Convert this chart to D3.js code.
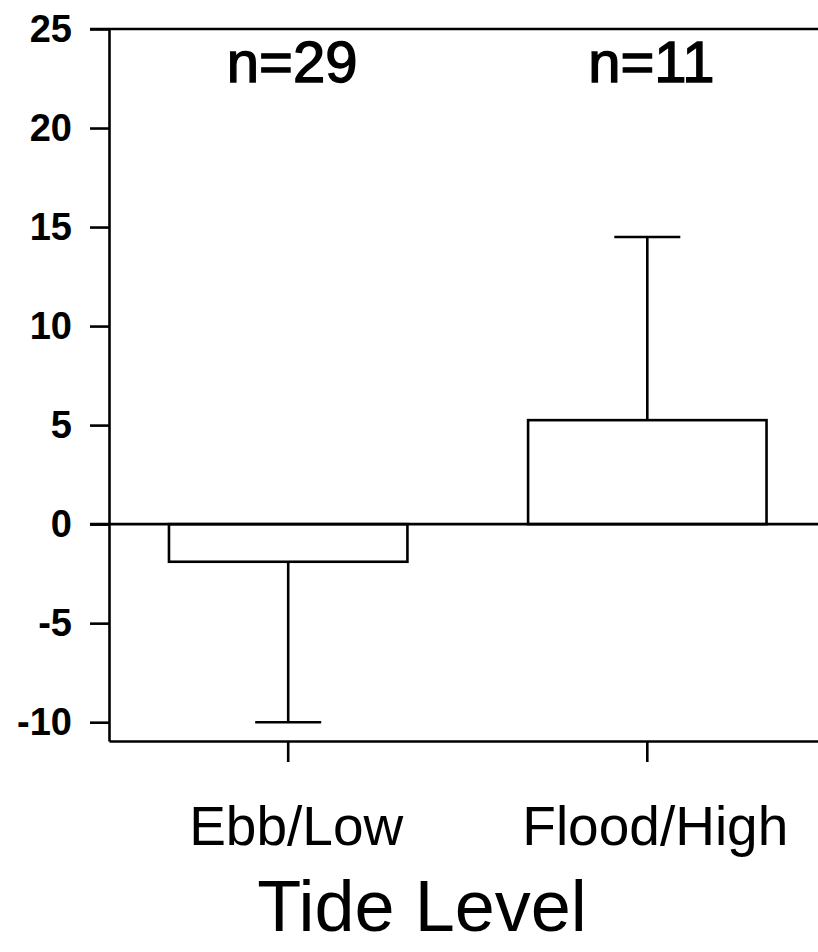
<!DOCTYPE html>
<html>
<head>
<meta charset="utf-8">
<script src="https://cdn.jsdelivr.net/npm/d3@7"></script>
<style>
  body { margin: 0; background: #fff; }
  svg { display: block; font-family: "Liberation Sans", Arial, sans-serif; }
</style>
</head>
<body>
<div id="chart"></div>
<script>
// data
var categories = ['Ebb/Low', 'Flood/High'];
var means = [-1.9, 5.25];
var errors = [8.1, 9.25];
var counts = ['n=29', 'n=11'];
var yTicks = [-10, -5, 0, 5, 10, 15, 20, 25];

(function() {
  'use strict';
  var width = 818, height = 952;
  var plotLeft = 109, plotRight = 826.5, plotTop = 29, plotBottom = 741;
  var stroke = 2.6;

  var svg = d3.select('#chart')
    .append('svg')
    .attr('width', width)
    .attr('height', height);

  var y = d3.scaleLinear()
    .domain([-10.95, 25])
    .range([plotBottom, plotTop]);

  var x = d3.scaleBand()
    .domain(categories)
    .range([plotLeft, plotRight])
    .paddingInner(0.336)
    .paddingOuter(0.167);

  // frame (top + right, runs past the page edge)
  svg.append('path')
    .attr('d', 'M' + (plotLeft - 19) + ',' + plotTop + 'H' + plotRight + 'V' + plotBottom)
    .attr('fill', 'none')
    .attr('stroke', '#000')
    .attr('stroke-width', stroke);

  // y axis (plain hyphen for negatives, as in the original)
  var yAxis = svg.append('g')
    .attr('transform', 'translate(' + plotLeft + ',0)')
    .call(d3.axisLeft(y).tickValues(yTicks).tickSize(19).tickSizeOuter(0).tickPadding(18)
      .tickFormat(function(d) { return String(d); }));
  yAxis.select('.domain').attr('stroke-width', stroke);
  yAxis.selectAll('.tick line').attr('stroke-width', stroke);
  yAxis.selectAll('.tick text')
    .style('font-size', '38px')
    .style('font-weight', 'bold')
    .attr('fill', '#000');

  // x axis
  var xAxis = svg.append('g')
    .attr('transform', 'translate(0,' + plotBottom + ')')
    .call(d3.axisBottom(x).tickSize(21).tickSizeOuter(0).tickFormat(''));
  xAxis.select('.domain').attr('stroke-width', stroke);
  xAxis.selectAll('.tick line').attr('stroke-width', stroke);

  // category labels
  svg.append('g').selectAll('text')
    .data(categories)
    .enter()
    .append('text')
    .attr('x', function(d) { return x(d) + x.bandwidth() / 2 + 8; })
    .attr('y', 845)
    .attr('text-anchor', 'middle')
    .style('font-size', '55px')
    .text(function(d) { return d; });

  // axis title
  svg.append('text')
    .attr('x', 422)
    .attr('y', 931)
    .attr('text-anchor', 'middle')
    .style('font-size', '72px')
    .text('Tide Level');

  // error bars, drawn away from zero
  var errG = svg.append('g')
    .attr('stroke', '#000')
    .attr('stroke-width', stroke);
  categories.forEach(function(c, i) {
    var cx = x(c) + x.bandwidth() / 2;
    var end = means[i] < 0 ? means[i] - errors[i] : means[i] + errors[i];
    errG.append('line')
      .attr('x1', cx).attr('x2', cx)
      .attr('y1', y(means[i])).attr('y2', y(end));
    errG.append('line')
      .attr('x1', cx - 33).attr('x2', cx + 33)
      .attr('y1', y(end)).attr('y2', y(end));
  });

  // bars
  svg.append('g').selectAll('rect')
    .data(means)
    .enter()
    .append('rect')
    .attr('x', function(d, i) { return x(categories[i]); })
    .attr('width', x.bandwidth())
    .attr('y', function(d) { return y(Math.max(0, d)); })
    .attr('height', function(d) { return Math.abs(y(d) - y(0)); })
    .attr('fill', '#fff')
    .attr('stroke', '#000')
    .attr('stroke-width', stroke);

  // zero line
  svg.append('line')
    .attr('x1', plotLeft - 19).attr('x2', plotRight)
    .attr('y1', y(0)).attr('y2', y(0))
    .attr('stroke', '#000')
    .attr('stroke-width', stroke);

  // sample sizes
  svg.append('g').selectAll('text')
    .data(counts)
    .enter()
    .append('text')
    .attr('x', function(d, i) { return x(categories[i]) + x.bandwidth() / 2 + 4; })
    .attr('y', 82)
    .attr('text-anchor', 'middle')
    .style('font-size', '58px')
    .attr('stroke', '#000')
    .attr('stroke-width', 1.4)
    .text(function(d) { return d; });
})();
</script>
</body>
</html>
